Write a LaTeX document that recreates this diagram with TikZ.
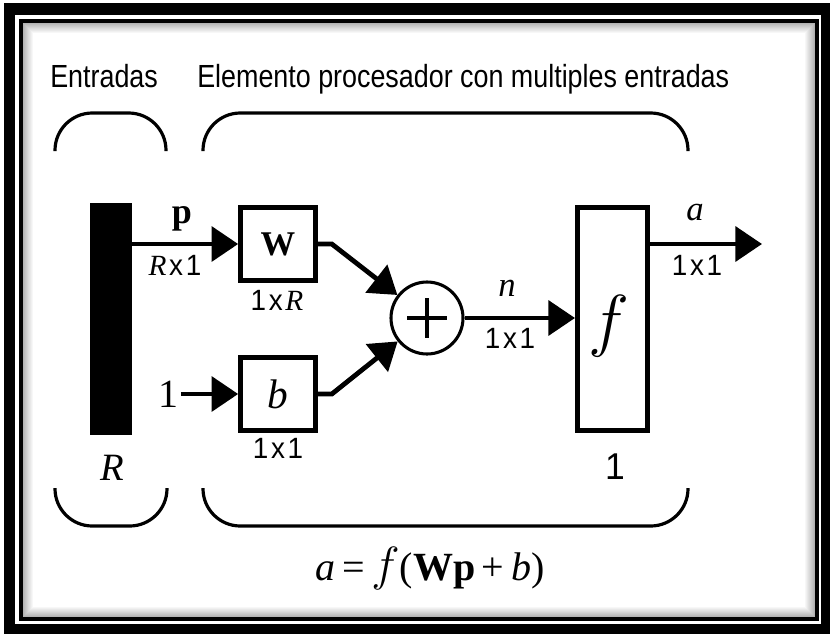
\RequirePackage{fix-cm}
\documentclass[tikz,border=0pt]{standalone}
\usepackage{fontspec}
\setmainfont{Liberation Serif}
\newfontfamily\lsans[FakeStretch=0.95]{Liberation Sans}
\newfontfamily\hsans[FakeStretch=0.84]{Liberation Sans}
\usetikzlibrary{arrows.meta,calc}
\begin{document}
\begin{tikzpicture}[x=0.75pt,y=-0.75pt,
  blk/.style={draw=black, line width=3.75pt, fill=white, inner sep=0pt},
  conn/.style={line width=3.6pt, -{Triangle[length=20pt,width=26pt]}},
  brace/.style={line width=2.4pt, rounded corners=28pt},
  lab/.style={inner sep=0pt},
  dim/.style={inner sep=0pt, font=\lsans\fontsize{22}{24}\selectfont},
  head/.style={inner sep=0pt, anchor=base west, font=\hsans\fontsize{24}{26}\selectfont}
]
\useasboundingbox (0,0) rectangle (832,636);
% frame
\fill[white] (0,0) rectangle (832,636);
\fill[black] (4,3) rectangle (830,634);
\fill[white] (15,15) rectangle (821,624);
\draw[black, line width=3pt] (21,21) rectangle (817,619);
\foreach \i [evaluate=\i as \op using 0.30*(1-\i/10)] in {0,...,9}
  \draw[black, opacity=\op, line width=0.8pt] (23.5+\i,23.5+\i) rectangle (814.5-\i,616.5-\i);

% headings
\node[head] (ent) at (50,87) {Entradas};
\node[head] (elem) at (197,87) {Elemento procesador con multiples entradas};

% braces
\draw[brace] (55,151) -- (55,113) -- (166,113) -- (166,151);
\draw[brace] (203,151) -- (203,113) -- (688,113) -- (688,151);
\draw[brace] (55,488) -- (55,526) -- (167,526) -- (167,488);
\draw[brace] (203,488) -- (203,526) -- (688,526) -- (688,488);

% blocks
\node[fill=black, minimum width=31.5pt, minimum height=174pt, inner sep=0pt] (bar) at (111,319) {};
\node[blk, minimum width=56pt, minimum height=54.5pt] (W) at (278,244)
  {\fontsize{26}{28}\selectfont\bfseries W};
\node[blk, minimum width=56pt, minimum height=54.5pt] (b) at (278,394)
  {\fontsize{31}{33}\selectfont\itshape b};
\node[draw=black, line width=2.3pt, circle, minimum size=54pt, inner sep=0pt, fill=white] (sum) at (427,318) {};
\draw[line width=2.3pt] ($(sum.center)+(-20,0)$) -- ($(sum.center)+(20,0)$);
\draw[line width=2.3pt] ($(sum.center)+(0,-20)$) -- ($(sum.center)+(0,20)$);
\node[blk, minimum width=52.5pt, minimum height=167pt] (f) at (612.5,319) {};
\node[lab] (fl) at (609,326) {\fontsize{52}{54}\selectfont$f$};
\node[lab, font=\fontsize{30}{32}\selectfont, inner sep=2pt] (one) at (168,394) {1};
\coordinate (out) at (762,244);

% connectors
\draw[conn] (bar.east |- W.west) -- (W.west);
\draw[conn] (one.east) -- (b.west);
\draw[conn] (W.east) -- ++(14,0) -- (sum);
\draw[conn] (b.east) -- ++(14,0) -- (sum);
\draw[conn] (sum.east) -- (f.west |- sum.east);
\draw[conn] (f.east |- W.east) -- (out);

% labels
\node[lab, font=\fontsize{27}{29}\selectfont\bfseries] (lp) at (182,219) {p};
\node[dim] (lrx1) at (175,265) {{\rmfamily\itshape R}\kern2pt x\kern2pt 1};
\node[dim] (l1xR) at (277,300) {1\kern2pt x\kern2pt{\rmfamily\itshape R}};
\node[dim] (l1x1b) at (278,448) {1\kern2pt x\kern2pt 1};
\node[lab, font=\fontsize{26}{28}\selectfont\itshape] (ln) at (507,288) {n};
\node[dim] (l1x1n) at (510,338) {1\kern2pt x\kern2pt 1};
\node[lab, font=\fontsize{26}{28}\selectfont\itshape] (la) at (695,213) {a};
\node[dim] (l1x1a) at (697,265) {1\kern2pt x\kern2pt 1};
\node[lab, font=\fontsize{29}{31}\selectfont\itshape] (lR) at (112,468) {R};
\node[lab, font=\lsans\fontsize{28}{30}\selectfont] (l1f) at (615,467) {1};
\node[lab, font=\fontsize{30}{32}\selectfont] (formula) at (430,568)
  {\textit{a}\,=\,{\fontsize{36}{38}\selectfont$f$}(\textbf{Wp}\,+\,\textit{b})};
\end{tikzpicture}
\end{document}
